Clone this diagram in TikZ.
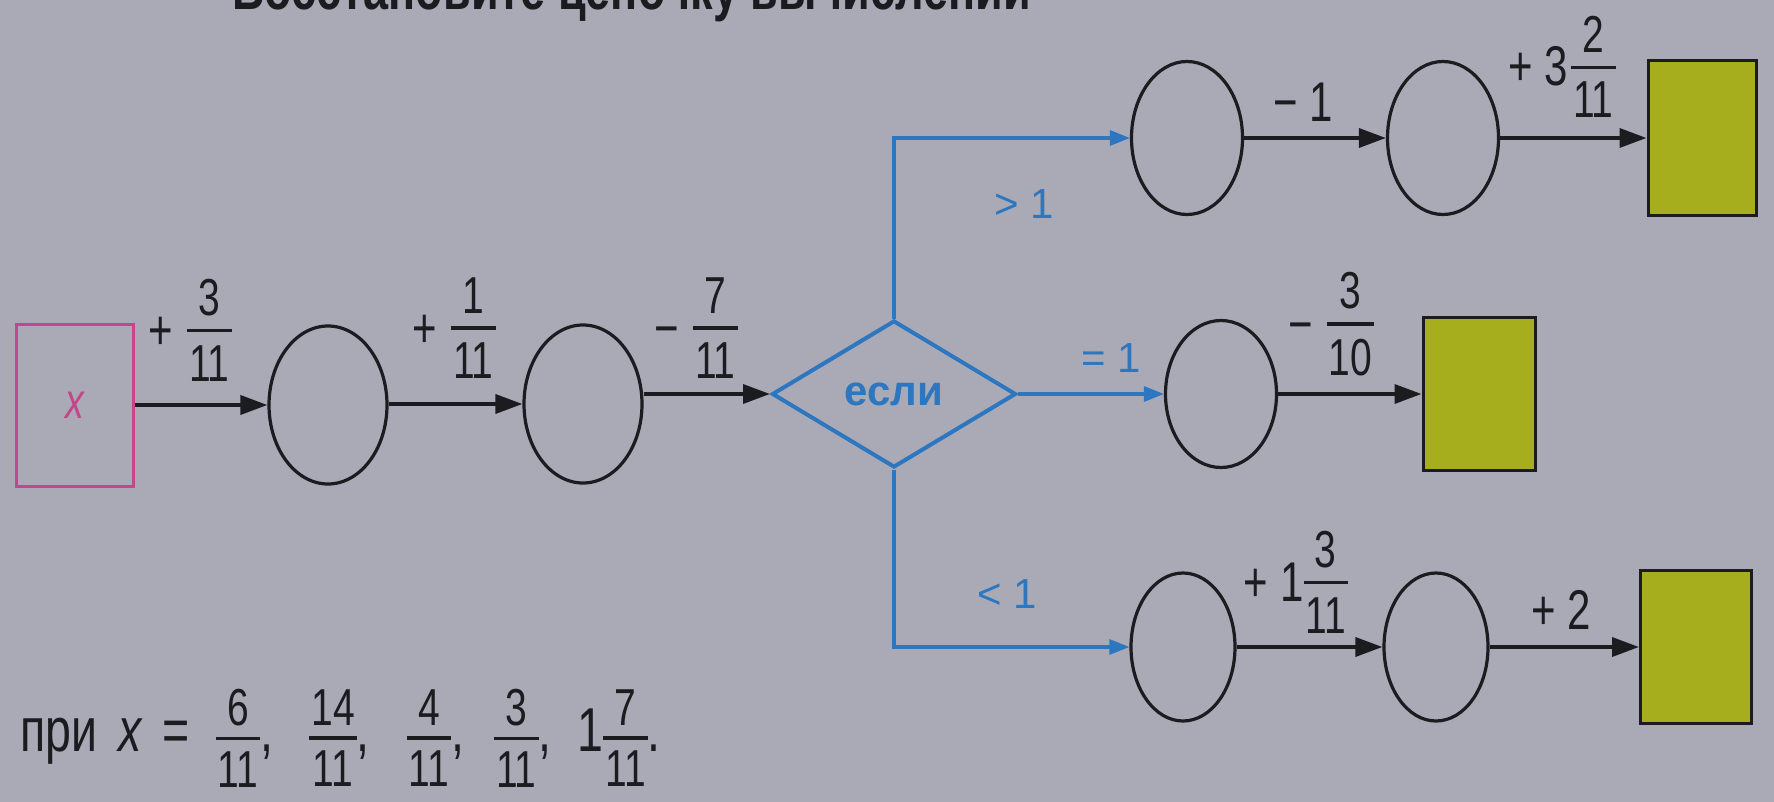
\documentclass[tikz,border=0pt]{standalone}
\usepackage{fontspec}
\setmainfont{Liberation Sans}
\newfontfamily\cnd{Liberation Sans}[FakeStretch=0.75]
\usetikzlibrary{shapes.geometric,arrows.meta}
\definecolor{bg}{RGB}{170,170,182}
\definecolor{ink}{RGB}{28,28,32}
\definecolor{blu}{RGB}{45,118,192}
\definecolor{pnk}{RGB}{196,70,140}
\definecolor{res}{RGB}{166,174,30}
\newsavebox\frbox
\def\fraxis{19pt}
\def\frgap{13pt}
\newcommand\fr[2]{\sbox\frbox{\cnd\fontsize{52}{52}\selectfont\vbox{\offinterlineskip\halign{\hfil\kern2pt##\kern2pt\hfil\cr #1\cr\noalign{\kern\frgap}\omit\leaders\hrule height 3.5pt\hfill\cr\noalign{\kern\frgap}#2\cr}}}\raisebox{\dimexpr \fraxis-(\ht\frbox-\dp\frbox)/2\relax}{\usebox\frbox}}
\tikzset{
  oval/.style={ellipse, draw=ink, line width=3.2pt, minimum width=114pt, minimum height=152pt, inner sep=0pt},
  resbox/.style={rectangle, draw=ink, fill=res, line width=3pt, minimum width=110pt, minimum height=154pt, inner sep=0pt},
  xbox/.style={rectangle, draw=pnk, line width=3pt, minimum width=117pt, minimum height=162pt, inner sep=0pt, text=pnk, font=\cnd\fontsize{50}{54}\selectfont\itshape},
  cond/.style={diamond, draw=blu, line width=4pt, minimum width=244pt, minimum height=147pt, inner sep=0pt, text=blu, font=\fontsize{42}{46}\selectfont\bfseries},
  flow/.style={draw=ink, line width=3.6pt, -{Triangle[length=27pt,width=19pt]}},
  bflow/.style={draw=blu, line width=3.2pt, -{Triangle[length=20pt,width=15pt]}},
  lab/.style={font=\cnd\fontsize{56}{60}\selectfont, text=ink, inner sep=0pt},
  blab/.style={font=\fontsize{42}{46}\selectfont, text=blu, inner sep=0pt},
  btxt/.style={font=\cnd\fontsize{62}{66}\selectfont, text=ink, inner sep=0pt},
  ttl/.style={font=\cnd\fontsize{60}{64}\selectfont\bfseries, text=ink, inner sep=0pt}
}
\begin{document}
\begin{tikzpicture}[x=1pt,y=-1pt]
\useasboundingbox (0,0) rectangle (1774,802);
\fill[bg] (0,0) rectangle (1774,802);
\begin{scope}
\clip (0,0) rectangle (1774,802);
\node[ttl, anchor=base west] (title) at (232,10) {Восстановите цепочку вычислений};
\end{scope}
% main row
\node[xbox] (x) at (75,405) {x};
\node[oval, minimum width=118pt, minimum height=158pt] (c1) at (328,405) {};
\node[oval, minimum width=118pt, minimum height=158pt] (c2) at (583,404) {};
\node[cond] (d) at (894,394) {если};
% top branch
\node[oval, minimum width=111pt, minimum height=153pt] (tA) at (1187,138) {};
\node[oval, minimum width=111pt, minimum height=153pt] (tB) at (1443,138) {};
\node[resbox, minimum width=108pt, minimum height=155pt] (tR) at (1702,138) {};
% middle branch
\node[oval, minimum width=111pt, minimum height=147pt] (mA) at (1221,394) {};
\node[resbox, minimum width=112pt, minimum height=153pt] (mR) at (1479,394) {};
% bottom branch
\node[oval, minimum width=104pt, minimum height=148pt] (bA) at (1183,647) {};
\node[oval, minimum width=104pt, minimum height=148pt] (bB) at (1436,647) {};
\node[resbox, minimum width=111pt, minimum height=153pt] (bR) at (1696,647) {};
% connectors
\draw[flow] (x.east) -- (c1.west);
\draw[flow] (c1.east |- c2.west) -- (c2.west);
\draw[flow] (c2.east |- d.west) -- (d.west);
\draw[bflow] (d.north) |- (tA.west);
\draw[bflow] (d.east) -- (mA.west);
\draw[bflow] (d.south) |- (bA.west);
\draw[flow] (tA.east) -- (tB.west);
\draw[flow] (tB.east) -- (tR.west);
\draw[flow] (mA.east) -- (mR.west);
\draw[flow] (bA.east) -- (bB.west);
\draw[flow] (bB.east) -- (bR.west);
% labels
\node[lab] (l1) at (190,330) {+\hspace{14pt}\fr{3}{11}};
\node[lab] (l2) at (454,328) {+\hspace{14pt}\fr{1}{11}};
\node[lab] (l3) at (696,328) {−\hspace{14pt}\fr{7}{11}};
\node[blab] (g1) at (1024,204) {> 1};
\node[blab] (e1) at (1111,358) {= 1};
\node[blab] (s1) at (1007,594) {< 1};
\node[lab] (l4) at (1303,102) {− 1};
\node[lab] (l5) at (1562,67) {+ 3\hspace{3pt}\fr{2}{11}};
\node[lab] (l6) at (1331,324) {−\hspace{14pt}\fr{3}{10}};
\node[lab] (l7) at (1296,582) {+ 1\fr{3}{11}};
\node[lab] (l8) at (1561,610) {+ 2};
\node[btxt, anchor=base west] (cond) at (20,751) {\def\fraxis{13pt}\def\frgap{11pt}при\hspace{21pt}\textit{x}\hspace{20pt}=\hspace{26pt}\fr{6}{11},\hspace{36pt}\fr{14}{11},\hspace{37pt}\fr{4}{11},\hspace{30pt}\fr{3}{11},\hspace{26pt}1\fr{7}{11}.};
\end{tikzpicture}
\end{document}
